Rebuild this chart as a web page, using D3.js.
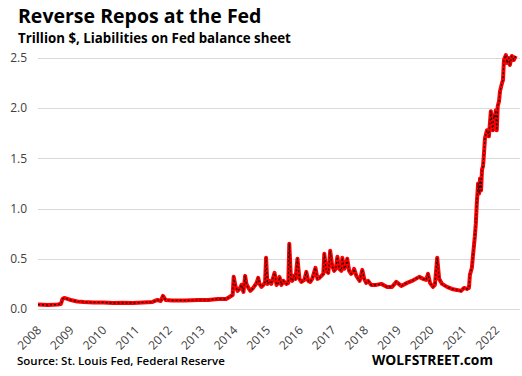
<!DOCTYPE html>
<html>
<head>
<meta charset="utf-8">
<script src="https://cdn.jsdelivr.net/npm/d3@7"></script>
<style>
  body { margin: 0; background: #fff; }
  svg { display: block; font-family: "Open Sans", "DejaVu Sans", sans-serif; }
</style>
</head>
<body>
<div id="chart"></div>
<script>
// decimal years and reverse repo balances (trillion $)
var years = [
  2008.00, 2008.30, 2008.60, 2008.70, 2008.75, 2008.80, 2008.90, 2009.00, 2009.20, 2009.40,
  2009.70, 2010.00, 2010.30, 2010.60, 2010.90, 2011.20, 2011.50, 2011.65, 2011.75, 2011.82,
  2011.90, 2012.10, 2012.50, 2012.90, 2013.20, 2013.50, 2013.75, 2013.85, 2013.95, 2013.98,
  2014.04, 2014.10, 2014.16, 2014.22, 2014.28, 2014.33, 2014.37, 2014.43, 2014.49, 2014.55,
  2014.62, 2014.68, 2014.73, 2014.77, 2014.83, 2014.89, 2014.94, 2014.97, 2015.01, 2015.07,
  2015.13, 2015.23, 2015.29, 2015.35, 2015.38, 2015.44, 2015.50, 2015.59, 2015.65, 2015.68,
  2015.73, 2015.77, 2015.82, 2015.87, 2015.93, 2015.99, 2016.05, 2016.14, 2016.20, 2016.26,
  2016.32, 2016.38, 2016.48, 2016.54, 2016.60, 2016.66, 2016.72, 2016.75, 2016.81, 2016.87,
  2016.90, 2016.93, 2016.99, 2017.05, 2017.10, 2017.15, 2017.21, 2017.27, 2017.30, 2017.36,
  2017.41, 2017.45, 2017.51, 2017.57, 2017.63, 2017.66, 2017.73, 2017.79, 2017.83, 2017.91,
  2017.97, 2018.03, 2018.09, 2018.18, 2018.34, 2018.49, 2018.67, 2018.82, 2018.95, 2019.10,
  2019.28, 2019.43, 2019.65, 2019.77, 2019.86, 2019.92, 2019.98, 2020.07, 2020.13, 2020.20,
  2020.26, 2020.35, 2020.50, 2020.65, 2020.80, 2020.93, 2021.02, 2021.11, 2021.17, 2021.20,
  2021.26, 2021.29, 2021.35, 2021.38, 2021.41, 2021.45, 2021.48, 2021.51, 2021.54, 2021.57,
  2021.60, 2021.63, 2021.66, 2021.72, 2021.75, 2021.78, 2021.84, 2021.87, 2021.90, 2021.93,
  2021.96, 2021.99, 2022.02, 2022.05, 2022.09, 2022.12, 2022.18, 2022.21, 2022.24, 2022.30,
  2022.33, 2022.39, 2022.42, 2022.48, 2022.54, 2022.60
];
var values = [
  0.045, 0.040, 0.045, 0.050, 0.100, 0.110, 0.100, 0.090, 0.075, 0.070,
  0.065, 0.065, 0.060, 0.062, 0.060, 0.065, 0.070, 0.090, 0.080, 0.130,
  0.090, 0.085, 0.085, 0.090, 0.090, 0.100, 0.100, 0.120, 0.140, 0.320,
  0.220, 0.180, 0.200, 0.240, 0.170, 0.330, 0.250, 0.210, 0.180, 0.200,
  0.230, 0.260, 0.310, 0.250, 0.220, 0.240, 0.270, 0.510, 0.250, 0.280,
  0.250, 0.360, 0.240, 0.260, 0.320, 0.240, 0.280, 0.250, 0.260, 0.650,
  0.300, 0.280, 0.330, 0.300, 0.500, 0.300, 0.270, 0.290, 0.370, 0.280,
  0.270, 0.300, 0.410, 0.300, 0.310, 0.330, 0.350, 0.550, 0.380, 0.360,
  0.450, 0.580, 0.430, 0.380, 0.400, 0.520, 0.400, 0.380, 0.510, 0.400,
  0.430, 0.500, 0.380, 0.350, 0.370, 0.400, 0.330, 0.300, 0.280, 0.390,
  0.300, 0.260, 0.280, 0.240, 0.240, 0.250, 0.220, 0.220, 0.270, 0.230,
  0.260, 0.280, 0.320, 0.300, 0.290, 0.350, 0.260, 0.220, 0.240, 0.510,
  0.300, 0.250, 0.220, 0.200, 0.190, 0.180, 0.210, 0.200, 0.210, 0.340,
  0.410, 0.520, 0.720, 0.850, 1.050, 1.250, 1.150, 1.300, 1.180, 1.390,
  1.420, 1.550, 1.700, 1.780, 1.760, 1.720, 1.970, 1.850, 1.780, 1.930,
  1.900, 1.980, 1.780, 2.020, 2.070, 2.170, 2.250, 2.280, 2.480, 2.530,
  2.450, 2.500, 2.430, 2.520, 2.480, 2.520
];
var yearTicks = d3.range(2008, 2023);
var valueTicks = [0, 0.5, 1.0, 1.5, 2.0, 2.5];

var title = "Reverse Repos at the Fed";
var subtitle = "Trillion $, Liabilities on Fed balance sheet";
var source = "Source: St. Louis Fed, Federal Reserve";
var brand = "WOLFSTREET.com";

var width = 522, height = 376;
var margin = { top: 58, right: 3, bottom: 67, left: 38 };

var svg = d3.select("#chart").append("svg")
    .attr("width", width)
    .attr("height", height);

var x = d3.scaleLinear()
    .domain([2008, 2022.7])
    .range([margin.left, 519]);

var y = d3.scaleLinear()
    .domain([0, 2.5])
    .range([height - margin.bottom, margin.top]);

// gridlines
svg.append("g")
    .selectAll("line")
    .data(valueTicks)
    .enter().append("line")
    .attr("x1", margin.left)
    .attr("x2", width - 2)
    .attr("y1", function (d) { return Math.round(y(d)) + 0.5; })
    .attr("y2", function (d) { return Math.round(y(d)) + 0.5; })
    .style("stroke", "#d9d9d9")
    .style("stroke-width", 1);

// y labels
svg.append("g")
    .selectAll("text")
    .data(valueTicks)
    .enter().append("text")
    .attr("x", 27)
    .attr("y", function (d) { return y(d); })
    .attr("dy", "0.35em")
    .attr("text-anchor", "end")
    .style("font-size", "12px")
    .style("fill", "#404040")
    .text(function (d) { return d3.format(".1f")(d); });

// x labels
svg.append("g")
    .selectAll("text")
    .data(yearTicks)
    .enter().append("text")
    .attr("transform", function (d) { return "translate(" + (x(d) + 4) + "," + 331 + ") rotate(-45)"; })
    .attr("text-anchor", "end")
    .style("font-size", "12px")
    .style("fill", "#404040")
    .text(function (d) { return d; });

var pts = years.map(function (d, i) { return [d, values[i]]; });

var line = d3.line()
    .x(function (d) { return x(d[0]); })
    .y(function (d) { return y(d[1]); });

svg.append("path")
    .datum(pts)
    .attr("d", line)
    .style("fill", "none")
    .style("stroke", "#ff0000")
    .style("stroke-width", 4)
    .style("stroke-linejoin", "round");

svg.append("path")
    .datum(pts)
    .attr("d", line)
    .style("fill", "none")
    .style("stroke", "#200000")
    .style("stroke-width", 1.2)
    .style("stroke-dasharray", "2,2")
    .style("stroke-linejoin", "round");

// titles
svg.append("text")
    .attr("x", 18)
    .attr("y", 23)
    .style("font-size", "19.5px")
    .style("font-weight", "bold")
    .style("fill", "#000")
    .text(title);

svg.append("text")
    .attr("x", 18)
    .attr("y", 43)
    .style("font-size", "13.3px")
    .style("font-weight", "bold")
    .style("fill", "#000")
    .text(subtitle);

svg.append("text")
    .attr("x", 17)
    .attr("y", 365)
    .style("font-size", "11.5px")
    .style("font-weight", "600")
    .style("fill", "#000")
    .text(source);

svg.append("text")
    .attr("x", 372)
    .attr("y", 365)
    .style("font-size", "13.8px")
    .style("font-weight", "bold")
    .style("fill", "#000")
    .text(brand);
</script>
</body>
</html>
